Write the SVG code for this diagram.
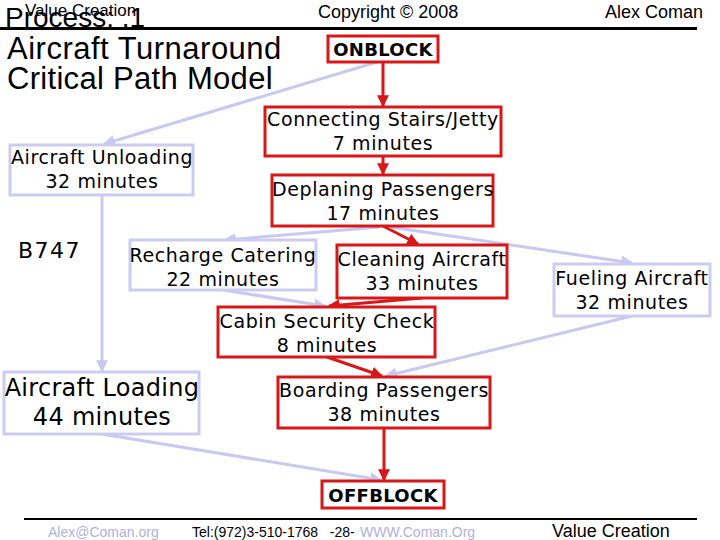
<svg xmlns="http://www.w3.org/2000/svg" width="720" height="540" viewBox="0 0 720 540">
<style>
.hd{font-family:"Liberation Sans",Arial,sans-serif;fill:#000}
.t{font-family:"DejaVu Sans",Verdana,sans-serif;font-size:19px;letter-spacing:0.6px;fill:#000;text-anchor:middle}
.tl{font-size:24px;letter-spacing:0.3px}
.b{font-family:"DejaVu Sans",Verdana,sans-serif;font-size:18px;font-weight:bold;letter-spacing:0.3px;fill:#000;text-anchor:middle}
.rb{fill:#fff;stroke:#d81818;stroke-width:3}
.lb{fill:#fff;stroke:#ccccf0;stroke-width:3}
.rc{stroke:#d81818;stroke-width:3;fill:none;marker-end:url(#ra)}
.lc{stroke:#c8c8f0;stroke-width:3;fill:none;marker-end:url(#la)}
.ft{font-family:"Liberation Sans",Arial,sans-serif;font-size:14px;white-space:pre}
</style>
<defs>
<marker id="ra" viewBox="0 0 10 10" refX="9" refY="5" markerWidth="4" markerHeight="4" orient="auto" markerUnits="strokeWidth"><path d="M0,0 L10,5 L0,10 z" fill="#d81818"/></marker>
<marker id="la" viewBox="0 0 10 10" refX="9" refY="5" markerWidth="4" markerHeight="4" orient="auto" markerUnits="strokeWidth"><path d="M0,0 L10,5 L0,10 z" fill="#c8c8f0"/></marker>
</defs>
<rect width="720" height="540" fill="#fff"/>
<g id="header">
<text class="hd" x="5" y="27" font-size="28">Process: .1</text>
<text class="hd" x="25" y="16" font-size="17">Value Creation</text>
<line x1="0" y1="28.5" x2="697" y2="28.5" stroke="#000" stroke-width="3"/>
<text class="hd" x="318" y="18" font-size="18">Copyright © 2008</text>
<text class="hd" x="605" y="18" font-size="18">Alex Coman</text>
<text class="hd" x="7" y="59" font-size="31" letter-spacing="0.5">Aircraft Turnaround</text>
<text class="hd" x="7" y="89" font-size="31" letter-spacing="0.3">Critical Path Model</text>
<text x="18" y="258" font-family="DejaVu Sans,Verdana,sans-serif" font-size="22" letter-spacing="1.5">B747</text>
</g>
<g id="connectors">
<line class="rc" x1="383" y1="62" x2="383" y2="106"/>
<line class="rc" x1="383" y1="156" x2="383" y2="174"/>
<line class="lc" x1="377" y1="62" x2="104" y2="144"/>
<line class="lc" x1="102" y1="195" x2="102" y2="371"/>
<line class="rc" x1="383" y1="226" x2="418" y2="244"/>
<line class="lc" x1="380" y1="227" x2="225" y2="240"/>
<line class="lc" x1="390" y1="227" x2="632" y2="263"/>
<line class="lc" x1="223" y1="290" x2="325" y2="306"/>
<line class="rc" x1="422" y1="298" x2="329" y2="306"/>
<line class="rc" x1="327" y1="357" x2="382" y2="376"/>
<line class="lc" x1="632" y1="316" x2="386" y2="376"/>
<line class="rc" x1="384" y1="428" x2="384" y2="480"/>
<line class="lc" x1="102" y1="434" x2="381" y2="480"/>
</g>
<g id="onblock"><rect class="rb" x="328" y="36" width="110" height="26"/><text class="b" x="383" y="56">ONBLOCK</text></g>
<g id="connecting"><rect class="rb" x="265" y="107" width="236" height="49"/><text class="t" x="383" y="126">Connecting Stairs/Jetty</text><text class="t" x="383" y="150">7 minutes</text></g>
<g id="deplaning"><rect class="rb" x="272" y="175" width="221" height="51"/><text class="t" x="383" y="196">Deplaning Passengers</text><text class="t" x="383" y="220">17 minutes</text></g>
<g id="unloading"><rect class="lb" x="10" y="145" width="183" height="50"/><text class="t" x="102" y="164">Aircraft Unloading</text><text class="t" x="102" y="188">32 minutes</text></g>
<g id="catering"><rect class="lb" x="130" y="240" width="186" height="50"/><text class="t" x="223" y="262">Recharge Catering</text><text class="t" x="223" y="286">22 minutes</text></g>
<g id="cleaning"><rect class="rb" x="337" y="245" width="170" height="53"/><text class="t" x="422" y="266">Cleaning Aircraft</text><text class="t" x="422" y="290">33 minutes</text></g>
<g id="fueling"><rect class="lb" x="554" y="264" width="156" height="52"/><text class="t" x="632" y="285">Fueling Aircraft</text><text class="t" x="632" y="309">32 minutes</text></g>
<g id="cabin"><rect class="rb" x="218" y="307" width="217" height="50"/><text class="t" x="327" y="328">Cabin Security Check</text><text class="t" x="327" y="352">8 minutes</text></g>
<g id="loading"><rect class="lb" x="4" y="372" width="195" height="62"/><text class="t tl" x="102" y="396">Aircraft Loading</text><text class="t tl" x="102" y="425">44 minutes</text></g>
<g id="boarding"><rect class="rb" x="278" y="377" width="212" height="51"/><text class="t" x="384" y="397">Boarding Passengers</text><text class="t" x="384" y="421">38 minutes</text></g>
<g id="offblock"><rect class="rb" x="322" y="481" width="122" height="27"/><text class="b" x="383" y="502">OFFBLOCK</text></g>
<g id="footer">
<line x1="24" y1="519" x2="697" y2="519" stroke="#000" stroke-width="2"/>
<text class="ft" x="48" y="537" fill="#b0b0e0">Alex@Coman.org</text>
<text class="ft" x="192" y="537" fill="#000" xml:space="preserve">Tel:(972)3-510-1768   -28- </text>
<text class="ft" x="360" y="537" fill="#b0b0e0">WWW.Coman.Org</text>
<text class="hd" x="552" y="537" font-size="18">Value Creation</text>
</g>
</svg>
